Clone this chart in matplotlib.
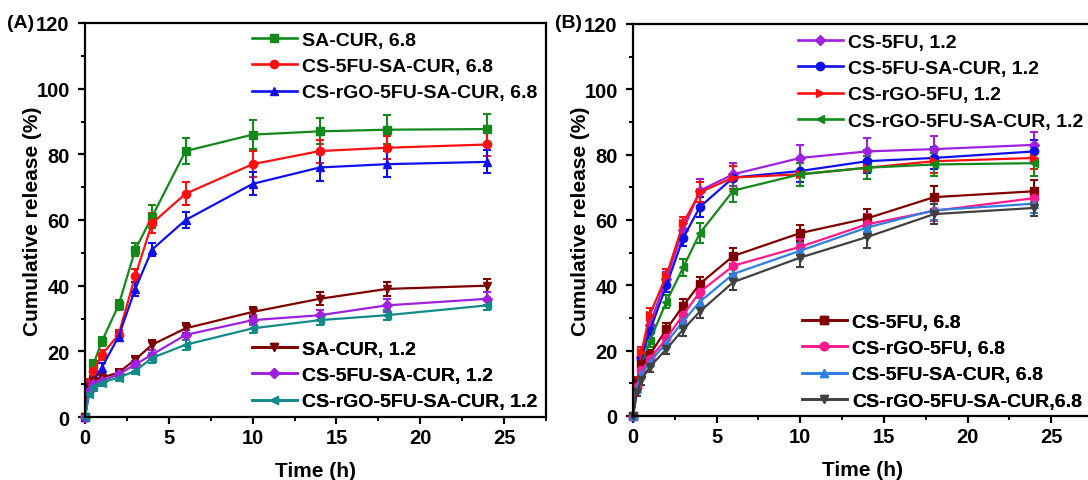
import matplotlib
matplotlib.use("Agg")
import matplotlib.pyplot as plt
from matplotlib.lines import Line2D
from matplotlib.ticker import MultipleLocator

plt.rcParams['font.family'] = ['Liberation Sans', 'DejaVu Sans']
plt.rcParams['font.weight'] = 'bold'

time_h = [0, 0.25, 0.5, 1, 2, 3, 4, 6, 10, 14, 18, 24]

# ---- Panel A data ----
a_labels = ["SA-CUR, 6.8", "CS-5FU-SA-CUR, 6.8", "CS-rGO-5FU-SA-CUR, 6.8",
            "SA-CUR, 1.2", "CS-5FU-SA-CUR, 1.2", "CS-rGO-5FU-SA-CUR, 1.2"]
a_sa_cur_68 = [0, 9, 16, 23, 34, 51, 61, 81, 86, 87, 87.5, 87.7]
a_cs5fu_sa_cur_68 = [0, 10, 14, 19, 25, 43, 59, 68, 77, 81, 82, 83]
a_csrgo_sa_cur_68 = [0, 9.5, 11, 15, 24.5, 39, 51, 60, 71, 76, 77, 77.7]
a_sa_cur_12 = [0, 9, 11, 12, 13.5, 17.5, 22, 27, 32, 36, 39, 40]
a_cs5fu_sa_cur_12 = [0, 8, 10, 11, 13, 16, 19, 25, 29.5, 31, 34, 36]
a_csrgo_sa_cur_12 = [0, 7, 9, 10.5, 12, 14, 18, 22, 27, 29.5, 31, 34]
a_err_sa_cur_68 = [0, 1.5, 1.5, 1.5, 1.5, 2, 3.5, 4, 4.5, 4, 4.5, 4.5]
a_err_cs5fu_sa_cur_68 = [0, 1.5, 1.5, 1.5, 1.5, 2, 3, 3.5, 4, 3.5, 3.5, 3.5]
a_err_csrgo_sa_cur_68 = [0, 1.5, 1.5, 1.5, 1.5, 2, 2, 2.5, 3.5, 4, 4, 3.5]
a_err_sa_cur_12 = [0, 1, 1, 1, 1, 1, 1.5, 1.5, 1.5, 2, 2, 2]
a_err_cs5fu_sa_cur_12 = [0, 1, 1, 1, 1, 1, 1.5, 1.5, 1.5, 1.5, 2, 2]
a_err_csrgo_sa_cur_12 = [0, 1, 1, 1, 1, 1, 1.5, 1.5, 1.5, 1.5, 1.5, 1.5]

# ---- Panel B data ----
b_labels = ["CS-5FU, 1.2", "CS-5FU-SA-CUR, 1.2", "CS-rGO-5FU, 1.2", "CS-rGO-5FU-SA-CUR, 1.2",
            "CS-5FU, 6.8", "CS-rGO-5FU, 6.8", "CS-5FU-SA-CUR, 6.8", "CS-rGO-5FU-SA-CUR,6.8"]
b_cs5fu_12 = [0, 10, 18, 28, 42, 57, 69, 74, 79, 81, 81.7, 83]
b_cs5fu_sa_cur_12 = [0, 10, 17.5, 26, 40, 54.5, 64, 73, 75, 78, 79, 81]
b_csrgo_5fu_12 = [0, 10.5, 19.5, 31, 43, 59, 68.5, 73, 74, 76, 78, 79]
b_csrgo_sa_cur_12 = [0, 9.5, 15, 23, 35, 45.5, 56, 69, 74, 76, 77, 77.4]
b_cs5fu_68 = [0, 10, 16, 18.7, 26.6, 33.7, 40.5, 49, 56, 60.5, 67, 68.8]
b_csrgo_5fu_68 = [0, 9, 14, 17.5, 23.8, 31, 38, 46, 51.8, 58.7, 62.8, 66.7]
b_cs5fu_sa_cur_68 = [0, 8.5, 13, 16.4, 22.5, 29, 35, 43.5, 50.6, 57.7, 63, 65]
b_csrgo_sa_cur_68 = [0, 7.5, 11, 15, 20.5, 26.5, 32, 41, 48.5, 54.8, 61.8, 63.7]
b_err_cs5fu_12 = [0, 1.5, 1.5, 2, 2, 2, 3.5, 3.5, 4, 4, 4, 4]
b_err_cs5fu_sa_cur_12 = [0, 1.5, 1.5, 2, 2, 2.5, 3, 3.5, 3.5, 3.5, 3.5, 3.5]
b_err_csrgo_5fu_12 = [0, 1.5, 1.5, 2, 2, 2, 3, 3.5, 3.5, 3.5, 3.5, 3.5]
b_err_csrgo_sa_cur_12 = [0, 1.5, 1.5, 2, 2, 2.5, 3, 3.5, 3.5, 3.5, 3.5, 4]
b_err_cs5fu_68 = [0, 1.5, 1.5, 1.5, 2, 2, 2, 2.5, 2.5, 3, 3.5, 3.5]
b_err_csrgo_5fu_68 = [0, 1.5, 1.5, 1.5, 2, 2, 2, 2.5, 2.5, 3, 3, 3]
b_err_cs5fu_sa_cur_68 = [0, 1.5, 1.5, 1.5, 2, 2, 2, 2, 2.5, 3, 3, 3]
b_err_csrgo_sa_cur_68 = [0, 1.5, 1.5, 1.5, 1.5, 2, 2, 2.5, 3, 3.5, 3, 2.5]

a_series = [a_sa_cur_68, a_cs5fu_sa_cur_68, a_csrgo_sa_cur_68,
            a_sa_cur_12, a_cs5fu_sa_cur_12, a_csrgo_sa_cur_12]
a_errs = [a_err_sa_cur_68, a_err_cs5fu_sa_cur_68, a_err_csrgo_sa_cur_68,
          a_err_sa_cur_12, a_err_cs5fu_sa_cur_12, a_err_csrgo_sa_cur_12]
a_colors = ["#12891a", "#ff1010", "#1010ee", "#800000", "#a020e0", "#128a8a"]
a_markers = ["s", "o", "^", "v", "D", "<"]

b_series = [b_cs5fu_12, b_cs5fu_sa_cur_12, b_csrgo_5fu_12, b_csrgo_sa_cur_12,
            b_cs5fu_68, b_csrgo_5fu_68, b_cs5fu_sa_cur_68, b_csrgo_sa_cur_68]
b_errs = [b_err_cs5fu_12, b_err_cs5fu_sa_cur_12, b_err_csrgo_5fu_12, b_err_csrgo_sa_cur_12,
          b_err_cs5fu_68, b_err_csrgo_5fu_68, b_err_cs5fu_sa_cur_68, b_err_csrgo_sa_cur_68]
b_colors = ["#a020e0", "#1010ee", "#ff1010", "#12891a", "#800000", "#ff1a8c", "#2f7fe0", "#404040"]
b_markers = ["D", "o", ">", "<", "s", "o", "^", "v"]

W, H = 1088, 481
fig = plt.figure(figsize=(W / 100, H / 100), dpi=100)

TICK_FS = 14.5
LABEL_FS = 15
LEG_FS = 14
PANEL_FS = 14


def px_axes(left, right, top, bottom):
    return fig.add_axes([left / W, 1 - bottom / H, (right - left) / W, (bottom - top) / H])


def style(ax):
    ax.set_xlim(0, 27.5)
    ax.set_ylim(0, 120)
    ax.xaxis.set_major_locator(MultipleLocator(5))
    ax.xaxis.set_minor_locator(MultipleLocator(2.5))
    ax.yaxis.set_major_locator(MultipleLocator(20))
    ax.yaxis.set_minor_locator(MultipleLocator(10))
    for s in ax.spines.values():
        s.set_linewidth(1.6)
    ax.tick_params(which='major', direction='out', length=5, width=1.6, labelsize=TICK_FS, pad=3)
    ax.tick_params(axis='y', which='major', pad=6)
    ax.tick_params(which='minor', direction='out', length=3, width=1.4)
    for lab in ax.get_xticklabels() + ax.get_yticklabels():
        lab.set_fontweight('bold')
    ax.set_xlabel("Time (h)", fontsize=LABEL_FS, fontweight='bold', labelpad=10)
    ax.set_ylabel("Cumulative release (%)", fontsize=LABEL_FS, fontweight='bold', labelpad=-4)


def draw(ax, series, errs, colors, markers):
    handles = []
    for y, e, c, m in zip(series, errs, colors, markers):
        ms = 5 if m == 'D' else 6
        ax.errorbar(time_h, y, yerr=e, color=c, marker=m, markersize=ms, linewidth=1.6,
                    elinewidth=1.5, capsize=3.2, capthick=1.5, clip_on=False)
        handles.append(Line2D([], [], color=c, marker=m, markersize=ms, linewidth=1.9))
    return handles


def legend(ax, handles, labels, x_px, y_px, ax_left, ax_top, ax_w, ax_h):
    bx = (x_px - ax_left) / ax_w
    by = 1 - (y_px - ax_top) / ax_h
    lg = ax.legend(handles, labels, loc='upper left', bbox_to_anchor=(bx, by),
                   frameon=False, handlelength=2.3, handletextpad=0.27,
                   labelspacing=0.45, borderaxespad=0, borderpad=0,
                   prop={'weight': 'bold', 'size': LEG_FS})
    ax.add_artist(lg)


# Panel A
axA = px_axes(85, 546, 24, 418)
style(axA)
hA = draw(axA, a_series, a_errs, a_colors, a_markers)
legend(axA, hA[:3], a_labels[:3], 252, 32, 85, 24, 461, 394)
legend(axA, hA[3:], a_labels[3:], 252, 341, 85, 24, 461, 394)
fig.text(7 / W, 1 - 24 / H, "(A)", fontsize=PANEL_FS, fontweight='bold', va='center', ha='left')

# Panel B
axB = px_axes(633, 1093, 25, 417)
style(axB)
hB = draw(axB, b_series, b_errs, b_colors, b_markers)
legend(axB, hB[:4], b_labels[:4], 798, 34, 633, 25, 460, 392)
legend(axB, hB[4:], b_labels[4:], 802, 314, 633, 25, 460, 392)
fig.text(555 / W, 1 - 24 / H, "(B)", fontsize=PANEL_FS, fontweight='bold', va='center', ha='left')

fig.savefig("out.png", dpi=100)
